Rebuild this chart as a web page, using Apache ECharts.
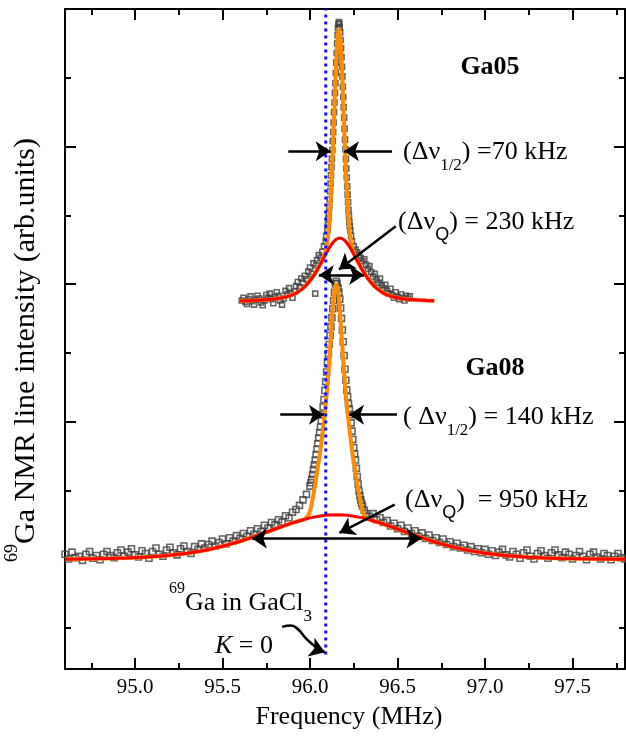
<!DOCTYPE html>
<html>
<head>
<meta charset="utf-8">
<script src="https://cdn.jsdelivr.net/npm/echarts@6/dist/echarts.min.js"></script>
<style>
  html, body { margin: 0; padding: 0; background: #fff; }
  #chart { width: 626px; height: 738px; }
</style>
</head>
<body>
<div id="chart"></div>
<script>
// axis ticks (no y labels in the original)
const xMajor = [95.0, 95.5, 96.0, 96.5, 97.0, 97.5]
const xMinor = [94.75, 95.25, 95.75, 96.25, 96.75, 97.25, 97.75]
const yMajor = [2, 4, 6, 8, 10]
const yMinor = [1, 3, 5, 7, 9]

// Ga05 spectrum: measured points (squares)
const ga05Data = [
  [95.61, 5.76], [95.62, 5.80], [95.63, 5.74], [95.64, 5.71], [95.65, 5.78], [95.66, 5.82], [95.67, 5.75],
  [95.68, 5.70], [95.69, 5.77], [95.70, 5.83], [95.71, 5.79], [95.72, 5.73], [95.73, 5.69], [95.74, 5.76],
  [95.75, 5.84], [95.76, 5.80], [95.77, 5.86], [95.78, 5.78], [95.79, 5.72], [95.80, 5.81], [95.81, 5.88],
  [95.82, 5.83], [95.83, 5.76], [95.84, 5.70], [95.85, 5.79], [95.86, 5.90], [95.87, 5.85], [95.88, 5.94],
  [95.89, 5.87], [95.90, 5.80], [95.91, 5.89], [95.92, 5.97], [95.93, 6.03], [95.94, 5.95], [95.95, 6.08],
  [95.96, 6.02], [95.97, 6.12], [95.98, 6.07], [95.99, 6.18], [96.00, 6.24], [96.01, 6.15], [96.02, 6.30],
  [96.03, 5.86], [96.035, 6.27], [96.04, 6.35], [96.05, 6.42], [96.06, 6.38], [96.07, 6.47], [96.08, 6.55],
  [96.09, 6.62], [96.0925, 6.70], [96.10, 6.78], [96.1025, 6.86], [96.105, 6.95], [96.1075, 7.03],
  [96.11, 7.12], [96.1125, 7.23], [96.115, 7.35], [96.1175, 7.46], [96.12, 7.58], [96.1225, 7.70],
  [96.125, 7.82], [96.1275, 7.95], [96.13, 8.08], [96.1325, 8.21], [96.135, 8.35], [96.1375, 8.50],
  [96.14, 8.64], [96.1425, 8.78], [96.145, 8.92], [96.1475, 9.07], [96.15, 9.22], [96.1525, 9.36],
  [96.155, 9.50], [96.1575, 9.62], [96.16, 9.72], [96.1625, 9.78], [96.165, 9.81], [96.1675, 9.79],
  [96.17, 9.74], [96.1725, 9.66], [96.175, 9.55], [96.1775, 9.43], [96.18, 9.30], [96.1825, 9.16],
  [96.185, 9.02], [96.1875, 8.87], [96.19, 8.72], [96.1925, 8.57], [96.195, 8.42], [96.1975, 8.26],
  [96.20, 8.10], [96.2025, 7.96], [96.205, 7.82], [96.2075, 7.68], [96.21, 7.55], [96.2125, 7.42],
  [96.215, 7.30], [96.2175, 7.19], [96.22, 7.08], [96.2225, 6.99], [96.225, 6.90], [96.2275, 6.84],
  [96.23, 6.78], [96.235, 6.70], [96.24, 6.62], [96.25, 6.55], [96.26, 6.50], [96.27, 6.46], [96.28, 6.42],
  [96.29, 6.38], [96.30, 6.33], [96.31, 6.36], [96.32, 6.28], [96.33, 6.22], [96.34, 6.26], [96.35, 6.17],
  [96.36, 6.11], [96.37, 6.15], [96.38, 6.06], [96.39, 6.02], [96.40, 6.08], [96.41, 5.98], [96.42, 5.94],
  [96.43, 5.99], [96.44, 5.90], [96.45, 5.86], [96.46, 5.93], [96.47, 5.84], [96.48, 5.80], [96.49, 5.88],
  [96.50, 5.82], [96.51, 5.78], [96.52, 5.85], [96.53, 5.80], [96.54, 5.76], [96.55, 5.83], [96.56, 5.79],
  [96.57, 5.82]
]
// Ga05 fits
const ga05Red = [
  [95.60, 5.754], [95.67, 5.76], [95.72, 5.766], [95.77, 5.775], [95.82, 5.79], [95.87, 5.816],
  [95.92, 5.866], [95.97, 5.96], [96.01, 6.082], [96.04, 6.20], [96.07, 6.337], [96.09, 6.432],
  [96.11, 6.523], [96.13, 6.60], [96.15, 6.651], [96.17, 6.67], [96.19, 6.651], [96.21, 6.60],
  [96.23, 6.523], [96.25, 6.432], [96.27, 6.337], [96.30, 6.20], [96.33, 6.082], [96.37, 5.96],
  [96.42, 5.866], [96.47, 5.816], [96.52, 5.79], [96.57, 5.775], [96.62, 5.766], [96.67, 5.76], [96.71, 5.756]
]
const ga05Orange = [
  [95.60, 5.754], [95.67, 5.76], [95.72, 5.766], [95.77, 5.775], [95.82, 5.79], [95.87, 5.816],
  [95.92, 5.866], [95.97, 5.96], [96.01, 6.082], [96.04, 6.20], [96.065, 6.32], [96.085, 6.45],
  [96.095, 6.56], [96.105, 6.76], [96.115, 7.09], [96.125, 7.60], [96.135, 8.26], [96.145, 8.96],
  [96.155, 9.51], [96.165, 9.72], [96.175, 9.52], [96.185, 8.98], [96.195, 8.29], [96.205, 7.63],
  [96.215, 7.13], [96.225, 6.80], [96.235, 6.61], [96.245, 6.49], [96.265, 6.36], [96.29, 6.245],
  [96.33, 6.082], [96.37, 5.96], [96.42, 5.866], [96.47, 5.816], [96.52, 5.79], [96.57, 5.775],
  [96.62, 5.766], [96.67, 5.76], [96.71, 5.756]
]

// Ga08 spectrum: measured points
const ga08Data = [
  [94.60, 2.07], [94.62, 2.00], [94.64, 2.10], [94.66, 2.02], [94.68, 2.04], [94.70, 1.98], [94.72, 2.07],
  [94.74, 2.11], [94.76, 2.01], [94.78, 2.05], [94.80, 1.99], [94.82, 2.07], [94.84, 2.11], [94.86, 2.05],
  [94.88, 2.02], [94.90, 2.09], [94.92, 2.13], [94.94, 2.04], [94.96, 2.10], [94.98, 2.15], [95.00, 2.06],
  [95.02, 2.03], [95.04, 2.12], [95.06, 2.08], [95.08, 2.01], [95.10, 2.11], [95.12, 2.16], [95.14, 2.07],
  [95.16, 2.04], [95.18, 2.13], [95.20, 2.17], [95.22, 2.09], [95.24, 2.06], [95.26, 2.15], [95.28, 2.19],
  [95.30, 2.11], [95.32, 2.08], [95.34, 2.18], [95.36, 2.14], [95.38, 2.22], [95.40, 2.16], [95.42, 2.21],
  [95.44, 2.26], [95.46, 2.19], [95.48, 2.24], [95.50, 2.29], [95.52, 2.22], [95.54, 2.31], [95.56, 2.26],
  [95.58, 2.34], [95.60, 2.30], [95.62, 2.37], [95.64, 2.33], [95.66, 2.41], [95.68, 2.36], [95.70, 2.44],
  [95.72, 2.40], [95.74, 2.49], [95.76, 2.45], [95.78, 2.53], [95.80, 2.50], [95.82, 2.57], [95.84, 2.54],
  [95.86, 2.63], [95.88, 2.60], [95.90, 2.68], [95.92, 2.72], [95.94, 2.78], [95.96, 2.86], [95.98, 2.94],
  [96.00, 3.06], [96.005, 3.11], [96.01, 3.16], [96.015, 3.23], [96.02, 3.30], [96.025, 3.37], [96.03, 3.44],
  [96.035, 3.52], [96.04, 3.60], [96.045, 3.68], [96.05, 3.76], [96.055, 3.84], [96.06, 3.92], [96.065, 4.01],
  [96.07, 4.10], [96.075, 4.21], [96.08, 4.32], [96.085, 4.45], [96.09, 4.58], [96.095, 4.72], [96.10, 4.86],
  [96.105, 4.99], [96.11, 5.12], [96.115, 5.25], [96.12, 5.38], [96.125, 5.51], [96.13, 5.64], [96.135, 5.76],
  [96.14, 5.88], [96.145, 6.00], [96.15, 6.04], [96.155, 6.01], [96.16, 5.94], [96.165, 5.88], [96.17, 5.78],
  [96.175, 5.65], [96.18, 5.50], [96.185, 5.33], [96.19, 5.16], [96.195, 4.96], [96.20, 4.76], [96.205, 4.60],
  [96.21, 4.46], [96.215, 4.36], [96.22, 4.26], [96.225, 4.18], [96.23, 4.10], [96.235, 3.98], [96.24, 3.86],
  [96.245, 3.74], [96.25, 3.62], [96.255, 3.53], [96.26, 3.44], [96.265, 3.32], [96.27, 3.20], [96.275, 3.09],
  [96.28, 2.99], [96.285, 2.92], [96.29, 2.86], [96.295, 2.81], [96.30, 2.77], [96.31, 2.71], [96.32, 2.66],
  [96.34, 2.62], [96.36, 2.66], [96.38, 2.57], [96.40, 2.60], [96.42, 2.53], [96.44, 2.56], [96.46, 2.48],
  [96.48, 2.52], [96.50, 2.44], [96.52, 2.49], [96.54, 2.40], [96.56, 2.45], [96.58, 2.37], [96.60, 2.41],
  [96.62, 2.33], [96.64, 2.38], [96.66, 2.30], [96.68, 2.35], [96.70, 2.27], [96.72, 2.31], [96.74, 2.24],
  [96.76, 2.29], [96.78, 2.21], [96.80, 2.25], [96.82, 2.18], [96.84, 2.23], [96.86, 2.16], [96.88, 2.20],
  [96.90, 2.13], [96.92, 2.18], [96.94, 2.11], [96.96, 2.15], [96.98, 2.09], [97.00, 2.14], [97.02, 2.07],
  [97.04, 2.12], [97.06, 2.05], [97.08, 2.10], [97.10, 2.14], [97.12, 2.06], [97.14, 2.03], [97.16, 2.11],
  [97.18, 2.07], [97.20, 2.01], [97.22, 2.09], [97.24, 2.13], [97.26, 2.04], [97.28, 2.00], [97.30, 2.08],
  [97.32, 2.12], [97.34, 2.05], [97.36, 2.01], [97.38, 2.09], [97.40, 2.13], [97.42, 2.06], [97.44, 2.02],
  [97.46, 2.10], [97.48, 2.07], [97.50, 2.00], [97.52, 2.05], [97.54, 2.11], [97.56, 2.04], [97.58, 1.99],
  [97.60, 2.07], [97.62, 2.10], [97.64, 2.03], [97.66, 2.00], [97.68, 2.08], [97.70, 2.05], [97.72, 1.99],
  [97.74, 2.04], [97.76, 2.08], [97.78, 2.02], [97.80, 2.00]
]
// Ga08 fits
const ga08Red = [
  [94.60, 1.998], [94.75, 2.003], [94.85, 2.008], [94.95, 2.015], [95.05, 2.026], [95.15, 2.043],
  [95.20, 2.054], [95.25, 2.068], [95.30, 2.084], [95.35, 2.104], [95.40, 2.128], [95.45, 2.154],
  [95.50, 2.185], [95.55, 2.22], [95.60, 2.258], [95.65, 2.30], [95.70, 2.344], [95.75, 2.389],
  [95.80, 2.436], [95.85, 2.481], [95.90, 2.525], [95.95, 2.564], [96.00, 2.598], [96.05, 2.623],
  [96.10, 2.640], [96.15, 2.645], [96.20, 2.640], [96.25, 2.623], [96.30, 2.598], [96.35, 2.564],
  [96.40, 2.525], [96.45, 2.481], [96.50, 2.436], [96.55, 2.389], [96.60, 2.344], [96.65, 2.30],
  [96.70, 2.258], [96.75, 2.22], [96.80, 2.185], [96.85, 2.154], [96.90, 2.128], [96.95, 2.104],
  [97.00, 2.084], [97.05, 2.068], [97.10, 2.054], [97.15, 2.043], [97.25, 2.026], [97.35, 2.015],
  [97.45, 2.008], [97.55, 2.003], [97.80, 1.997]
]
const ga08Orange = [
  [94.60, 1.998], [94.75, 2.003], [94.85, 2.008], [94.95, 2.015], [95.05, 2.026], [95.15, 2.043],
  [95.20, 2.054], [95.25, 2.068], [95.30, 2.084], [95.35, 2.104], [95.40, 2.128], [95.45, 2.154],
  [95.50, 2.185], [95.55, 2.22], [95.60, 2.258], [95.65, 2.30], [95.70, 2.344], [95.75, 2.389],
  [95.80, 2.436], [95.85, 2.481], [95.90, 2.525], [95.95, 2.564], [95.97, 2.58], [95.98, 2.596],
  [95.99, 2.632], [96.00, 2.698], [96.01, 2.804], [96.02, 2.939], [96.03, 3.094], [96.04, 3.259],
  [96.05, 3.423], [96.06, 3.597], [96.07, 3.79], [96.08, 4.013], [96.09, 4.256], [96.10, 4.539],
  [96.11, 4.881], [96.12, 5.263], [96.13, 5.644], [96.14, 5.915], [96.15, 6.005], [96.16, 5.915],
  [96.17, 5.644], [96.18, 5.263], [96.19, 4.881], [96.20, 4.539], [96.21, 4.256], [96.22, 4.013],
  [96.23, 3.79], [96.24, 3.597], [96.25, 3.423], [96.26, 3.259], [96.27, 3.094], [96.28, 2.939],
  [96.29, 2.804], [96.30, 2.698], [96.31, 2.632], [96.32, 2.596], [96.33, 2.58], [96.35, 2.564],
  [96.40, 2.525], [96.45, 2.481], [96.50, 2.436], [96.55, 2.389], [96.60, 2.344], [96.65, 2.30],
  [96.70, 2.258], [96.75, 2.22], [96.80, 2.185], [96.85, 2.154], [96.90, 2.128], [96.95, 2.104],
  [97.00, 2.084], [97.05, 2.068], [97.10, 2.054], [97.15, 2.043], [97.25, 2.026], [97.35, 2.015],
  [97.45, 2.008], [97.55, 2.003], [97.80, 1.997]
]

// reference line (69Ga in GaCl3, K = 0)
const refFreq = 96.09
const refLine = [[refFreq, 0.61], [refFreq, 10]]

// annotation arrows, in data coordinates
const ga05HalfArrows = [
  [[95.876, 7.93], [96.118, 7.93]],
  [[96.469, 7.93], [96.194, 7.93]]
]
const ga05QSpan = [[96.051, 6.13], [96.309, 6.13]]
const ga05QPointer = [[96.49, 6.84], [96.166, 6.21]]
const ga08HalfArrows = [
  [[95.83, 4.10], [96.08, 4.10]],
  [[96.497, 4.10], [96.223, 4.10]]
]
const ga08QSpan = [[95.668, 2.30], [96.637, 2.30]]
const ga08QPointer = [[96.484, 2.79], [96.168, 2.38]]
const kCurve = [[95.841, 1.013], [95.891, 1.032], [95.933, 0.974], [95.974, 0.853], [96.015, 0.756], [96.055, 0.673]]
const kHead = [[96.055, 0.673], [96.086, 0.644]]

const SERIF = 'Liberation Serif'
const SANS = 'Liberation Sans'

// one axis per tick length (major / minor), both sides of the frame
function xTickAxis(position, values, len, withLine, withLabel) {
  return {
    type: 'value',
    min: 94.6,
    max: 97.8,
    position: position,
    axisLine: { show: withLine, onZero: false, lineStyle: { color: '#000', width: 2 } },
    axisTick: { show: true, inside: true, length: len, customValues: values, lineStyle: { color: '#000', width: 2 } },
    axisLabel: {
      show: withLabel,
      customValues: values,
      margin: 8,
      color: '#000',
      fontFamily: SERIF,
      fontSize: 21,
      formatter: (v) => v.toFixed(1)
    },
    splitLine: { show: false }
  }
}
function yTickAxis(position, values, len, withLine) {
  return {
    type: 'value',
    min: 0.4,
    max: 10,
    position: position,
    axisLine: { show: withLine, onZero: false, lineStyle: { color: '#000', width: 2 } },
    axisTick: { show: true, inside: true, length: len, customValues: values, lineStyle: { color: '#000', width: 2 } },
    axisLabel: { show: false },
    splitLine: { show: false }
  }
}

function arrowSeries(segments, both) {
  return {
    type: 'lines',
    coordinateSystem: 'cartesian2d',
    xAxisIndex: 0,
    yAxisIndex: 0,
    symbol: both ? ['arrow', 'arrow'] : ['none', 'arrow'],
    symbolSize: 15,
    lineStyle: { color: '#000', width: 2.5, opacity: 1, curveness: 0 },
    z: 20,
    silent: true,
    data: segments.map((s) => ({ coords: s }))
  }
}

const RICH = {
  m: { fontFamily: SERIF, fontSize: 26, lineHeight: 44, fill: '#000' },
  s: { fontFamily: SERIF, fontSize: 17, lineHeight: 14, verticalAlign: 'bottom', fill: '#000' },
  q: { fontFamily: SANS, fontSize: 18, lineHeight: 18, verticalAlign: 'bottom', fill: '#000' },
  p: { fontFamily: SERIF, fontSize: 16, lineHeight: 29, verticalAlign: 'top', fill: '#000' },
  i: { fontFamily: SERIF, fontSize: 26, fontStyle: 'italic', lineHeight: 44, fill: '#000' },
  b: { fontFamily: SERIF, fontSize: 26, fontWeight: 'bold', lineHeight: 44, fill: '#000' },
  t: { fontFamily: SERIF, fontSize: 30, lineHeight: 46, fill: '#000' },
  tp: { fontFamily: SERIF, fontSize: 18, lineHeight: 30, verticalAlign: 'top', fill: '#000' }
}

function richText(x, y, text, opts) {
  return {
    type: 'text',
    x: x,
    y: y,
    rotation: (opts && opts.rotation) || 0,
    z: 100,
    style: {
      text: text,
      align: (opts && opts.align) || 'left',
      verticalAlign: 'middle',
      fill: '#000',
      rich: RICH
    }
  }
}

const chart = echarts.init(document.getElementById('chart'), null, { renderer: 'canvas' })

const dataStyle = { color: 'rgba(0,0,0,0)', borderColor: '#3f3f3f', borderWidth: 1.6 }

const option = {
  animation: false,
  backgroundColor: '#fff',
  grid: { left: 65, right: 1, top: 9, bottom: 69, containLabel: false },
  xAxis: [
    Object.assign(xTickAxis('bottom', xMajor, 11, true, true), {
      name: 'Frequency (MHz)',
      nameLocation: 'middle',
      nameGap: 35,
      nameTextStyle: { fontFamily: SERIF, fontSize: 26, color: '#000', padding: [0, 0, 0, 8] }
    }),
    xTickAxis('bottom', xMinor, 6, false, false),
    xTickAxis('top', xMajor, 11, true, false),
    xTickAxis('top', xMinor, 6, false, false)
  ],
  yAxis: [
    yTickAxis('left', yMajor, 11, true),
    yTickAxis('left', yMinor, 6, false),
    yTickAxis('right', yMajor, 11, true),
    yTickAxis('right', yMinor, 6, false)
  ],
  series: [
    {
      name: 'Ga08 data',
      type: 'scatter',
      data: ga08Data,
      symbol: 'rect',
      symbolSize: 6,
      itemStyle: dataStyle,
      z: 2,
      silent: true
    },
    {
      name: 'Ga05 data',
      type: 'scatter',
      data: ga05Data,
      symbol: 'rect',
      symbolSize: 5,
      itemStyle: dataStyle,
      z: 2,
      silent: true
    },
    {
      name: 'Ga08 fit',
      type: 'line',
      data: ga08Orange,
      showSymbol: false,
      lineStyle: { color: '#ff8c00', width: 4 },
      z: 3
    },
    {
      name: 'Ga08 broad',
      type: 'line',
      data: ga08Red,
      showSymbol: false,
      lineStyle: { color: '#ff0000', width: 3 },
      z: 4
    },
    {
      name: 'Ga05 fit',
      type: 'line',
      data: ga05Orange,
      showSymbol: false,
      lineStyle: { color: '#ff8c00', width: 4 },
      z: 3
    },
    {
      name: 'Ga05 broad',
      type: 'line',
      data: ga05Red,
      showSymbol: false,
      smooth: 0.2,
      lineStyle: { color: '#ff0000', width: 3 },
      z: 4
    },
    {
      name: 'GaCl3',
      type: 'line',
      data: refLine,
      showSymbol: false,
      lineStyle: { color: '#1010ff', width: 3, type: [3, 4] },
      z: 10
    },
    {
      name: 'K curve',
      type: 'line',
      data: kCurve,
      showSymbol: false,
      smooth: 0.5,
      lineStyle: { color: '#000', width: 2.5 },
      z: 20
    },
    arrowSeries([kHead], false),
    arrowSeries(ga05HalfArrows, false),
    arrowSeries([ga05QPointer], false),
    arrowSeries([ga05QSpan], true),
    arrowSeries(ga08HalfArrows, false),
    arrowSeries([ga08QPointer], false),
    arrowSeries([ga08QSpan], true)
  ],
  graphic: [
    richText(490, 67, '{b|Ga05}', { align: 'center' }),
    richText(403, 152, '{m|(Δν}{s|1/2}{m|) =70 kHz}'),
    richText(398, 222, '{m|(Δν}{q|Q}{m|) = 230 kHz}'),
    richText(495, 368, '{b|Ga08}', { align: 'center' }),
    richText(403, 417, '{m|( Δν}{s|1/2}{m|) = 140 kHz}'),
    richText(405, 500, '{m|(Δν}{q|Q}{m|)  = 950 kHz}'),
    richText(169, 603, '{p|69}{m|Ga in GaCl}{s|3}'),
    richText(215, 646, '{i|K}{m| = 0}'),
    richText(26, 350, '{tp|69}{t|Ga NMR line intensity (arb.units)}', { align: 'center', rotation: Math.PI / 2 })
  ]
}

chart.setOption(option)
</script>
</body>
</html>
